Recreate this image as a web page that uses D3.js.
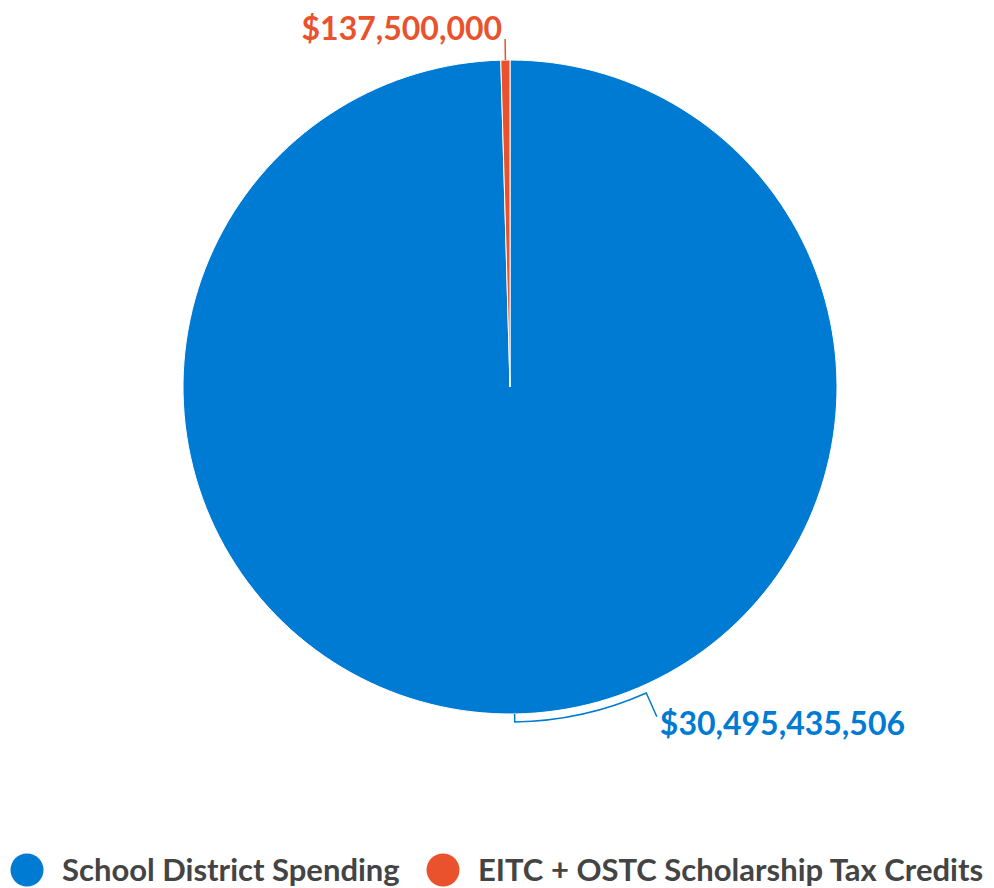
<!DOCTYPE html>
<html lang="en">
  <head>
    <meta charset="UTF-8" />
    <title>School District Spending vs Scholarship Tax Credits</title>
    <script src="https://cdnjs.cloudflare.com/ajax/libs/d3/7.8.5/d3.min.js"></script>
    <style>
      body,
      html {
        margin: 0;
        padding: 0;
        background: #fff;
      }
      svg {
        display: block;
      }
      text {
        font-family: "Lato", "Open Sans", sans-serif;
        font-weight: 700;
      }
    </style>
  </head>
  <body>
    <svg width="994" height="888"></svg>
    <script type="text/javascript">
      const categories = ["School District Spending", "EITC + OSTC Scholarship Tax Credits"];
      const values = [30495435506, 137500000];
      const labels = ["$30,495,435,506", "$137,500,000"];
      const colors = ["#007bd3", "#e9522c"];

      const svg = d3.select("svg");
      const cx = 510,
        cy = 387,
        radius = 327;

      const data = categories.map((c, i) => ({ name: c, value: values[i], label: labels[i], color: colors[i] }));

      const pie = d3.pie().sort(null).value((d) => d.value);
      const arcs = pie(data);
      const arc = d3.arc().innerRadius(0).outerRadius(radius);

      const g = svg.append("g").attr("transform", `translate(${cx},${cy})`);

      g.selectAll("path.slice")
        .data(arcs)
        .join("path")
        .attr("class", "slice")
        .attr("d", arc)
        .attr("fill", (d) => d.data.color)
        .attr("stroke", "#fff")
        .attr("stroke-width", 1);

      // polar helper, angle measured clockwise from 12 o'clock
      const pt = (a, r) => [Math.sin(a) * r, -Math.cos(a) * r];
      const mid = (d) => (d.startAngle + d.endAngle) / 2;

      // Big slice: crooked connector that follows the rim, then label to the right
      const big = arcs[0];
      const bigMid = mid(big);
      const turnAngle = (156 * Math.PI) / 180;
      const p0 = pt(bigMid, radius);
      const p1 = pt(bigMid, radius + 8);
      const p2 = pt(turnAngle, radius + 8);
      const p3 = pt(turnAngle, radius + 34);
      g.append("path")
        .attr(
          "d",
          `M${p0}L${p1}A${radius + 8},${radius + 8} 0 0 0 ${p2}L${p3}`
        )
        .attr("fill", "none")
        .attr("stroke", big.data.color)
        .attr("stroke-width", 1.5);
      g.append("text")
        .attr("x", p3[0] + 3)
        .attr("y", p3[1] + 18)
        .attr("fill", big.data.color)
        .attr("font-size", 32)
        .text(big.data.label);

      // Small slice: straight radial connector, label to the left
      const small = arcs[1];
      const smallMid = mid(small);
      const q0 = pt(smallMid, radius);
      const q1 = pt(smallMid, radius + 21);
      g.append("line")
        .attr("x1", q0[0])
        .attr("y1", q0[1])
        .attr("x2", q1[0])
        .attr("y2", q1[1])
        .attr("stroke", small.data.color)
        .attr("stroke-width", 1.5);
      g.append("text")
        .attr("x", q1[0] - 3)
        .attr("y", q1[1] + 1)
        .attr("text-anchor", "end")
        .attr("fill", small.data.color)
        .attr("font-size", 32)
        .text(small.data.label);

      // Legend
      const legendX = [27, 443];
      const legend = svg
        .append("g")
        .selectAll("g")
        .data(data)
        .join("g")
        .attr("transform", (d, i) => `translate(${legendX[i]},870)`);
      legend
        .append("circle")
        .attr("r", 16.5)
        .attr("fill", (d) => d.color);
      legend
        .append("text")
        .attr("x", 35)
        .attr("y", 11)
        .attr("fill", "#444")
        .attr("font-size", 31)
        .text((d) => d.name);
    </script>
  </body>
</html>
